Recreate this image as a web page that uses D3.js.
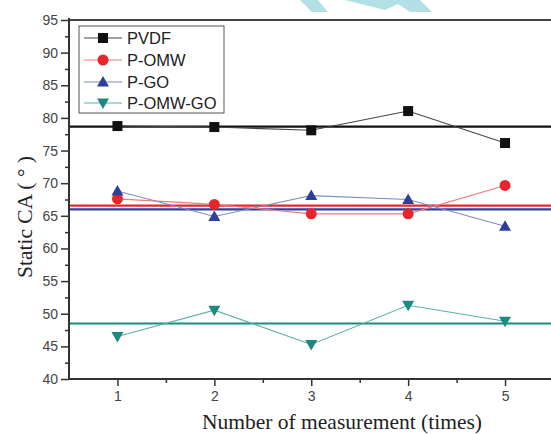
<!DOCTYPE html>
<html><head><meta charset="utf-8">
<script src="https://cdn.jsdelivr.net/npm/d3@7"></script>
<style>body{margin:0;background:#fff}svg{display:block}</style>
</head><body>
<svg id="c" width="551" height="434"></svg>
<script>
const measurements = [1, 2, 3, 4, 5];
const seriesNames = ["PVDF", "P-OMW", "P-GO", "P-OMW-GO"];
const pvdf = [78.75, 78.6, 78.1, 81.05, 76.15];
const pOmw = [67.6, 66.75, 65.3, 65.3, 69.65];
const pGo = [68.8, 64.9, 68.1, 67.5, 63.4];
const pOmwGo = [46.5, 50.55, 45.3, 51.3, 48.85];
const meanLines = [78.65, 66.55, 66.0, 48.5];
const yTicks = [40, 45, 50, 55, 60, 65, 70, 75, 80, 85, 90, 95];
const xTicks = [1, 2, 3, 4, 5];

const colors = ["#111111", "#e8252b", "#2c3f9a", "#1c8a80"];
const lineColors = ["#444444", "#ef7a7d", "#7f8cc4", "#5fb0a8"];
const shapes = ["square", "circle", "triangle", "triangleDown"];
const seriesData = [pvdf, pOmw, pGo, pOmwGo];

const svg = d3.select("#c");
const L = 69, T = 20, R = 553.5, B = 379;
const x = d3.scaleLinear().domain([0.5, 5.5]).range([L, R]);
const y = d3.scaleLinear().domain([40, 95]).range([B, T]);

// watermark
svg.append("path").attr("d","M300,0 L318,0 L328,12 L312,12 Z").attr("fill","#b2e0e6");
svg.append("path").attr("d","M345,0 L420,0 L432,12 L410,12 L398,4 L385,10 Z").attr("fill","#b2e0e6");

const g = svg.append("g");
meanLines.forEach((m, i) => {
  g.append("line").attr("x1", L).attr("x2", 551).attr("y1", y(m)).attr("y2", y(m))
    .attr("stroke", colors[i]).attr("stroke-width", 2.2);
});

const line = d3.line().x((d, i) => x(measurements[i])).y(d => y(d));
seriesData.forEach((s, i) => {
  g.append("path").datum(s).attr("d", line).attr("fill", "none")
    .attr("stroke", lineColors[i]).attr("stroke-width", 1.1);
});

function marker(sel, shape, cx, cy, color) {
  const s = 5;
  if (shape === "square") sel.append("rect").attr("x", cx - s).attr("y", cy - s).attr("width", 2*s).attr("height", 2*s).attr("fill", color);
  else if (shape === "circle") sel.append("circle").attr("cx", cx).attr("cy", cy).attr("r", 5.5).attr("fill", color);
  else if (shape === "triangle") sel.append("path").attr("d", `M${cx},${cy-6} L${cx+6},${cy+4.5} L${cx-6},${cy+4.5} Z`).attr("fill", color);
  else sel.append("path").attr("d", `M${cx},${cy+6} L${cx+6},${cy-4.5} L${cx-6},${cy-4.5} Z`).attr("fill", color);
}
seriesData.forEach((s, i) => {
  s.forEach((v, j) => marker(g, shapes[i], x(measurements[j]), y(v), colors[i]));
});

const axisColor = "#333";
svg.append("line").attr("x1", L).attr("x2", 551).attr("y1", T).attr("y2", T).attr("stroke", "#444").attr("stroke-width", 2);
const yAxis = svg.append("g").attr("transform", `translate(${L},0)`)
  .call(d3.axisLeft(y).tickValues(yTicks).tickSize(8).tickPadding(3));
const yMinor = svg.append("g").attr("transform", `translate(${L},0)`)
  .call(d3.axisLeft(y).tickValues(d3.range(42.5, 95, 5)).tickSize(4).tickFormat(""));
const xAxis = svg.append("g").attr("transform", `translate(0,${B})`)
  .call(d3.axisBottom(x).tickValues(xTicks).tickSize(7).tickPadding(5).tickFormat(d3.format("d")));
const xMinor = svg.append("g").attr("transform", `translate(0,${B})`)
  .call(d3.axisBottom(x).tickValues([1.5, 2.5, 3.5, 4.5]).tickSize(4).tickFormat(""));
[yAxis, yMinor, xAxis, xMinor].forEach(a => {
  a.select(".domain").attr("stroke", axisColor).attr("stroke-width", 2);
  a.selectAll(".tick line").attr("stroke", axisColor).attr("stroke-width", 1.5);
  a.selectAll("text").attr("font-family", "Liberation Sans, Arial, sans-serif").attr("font-size", 14).attr("fill", "#444");
});
yAxis.select(".domain").attr("d", `M0,${B}V${T - 2}`);
xAxis.select(".domain").attr("d", `M${L},0H551`);
xMinor.select(".domain").remove();
yMinor.select(".domain").remove();

svg.append("text").attr("x", 342).attr("y", 429).attr("text-anchor", "middle")
  .attr("font-family", "Liberation Serif, Times New Roman, serif").attr("font-size", 21.5).attr("fill", "#222")
  .text("Number of measurement (times)");
svg.append("text").attr("transform", "translate(32,217) rotate(-90)").attr("text-anchor", "middle")
  .attr("font-family", "Liberation Serif, Times New Roman, serif").attr("font-size", 21.5).attr("fill", "#222")
  .text("Static CA ( ° )");

const lg = svg.append("g");
lg.append("rect").attr("x", 79).attr("y", 26).attr("width", 145).attr("height", 87)
  .attr("fill", "#fff").attr("stroke", "#555").attr("stroke-width", 1);
const ly = [38, 60, 82, 103];
seriesNames.forEach((n, i) => {
  lg.append("line").attr("x1", 84).attr("x2", 122).attr("y1", ly[i]).attr("y2", ly[i]).attr("stroke", lineColors[i]).attr("stroke-width", 1.1);
  marker(lg, shapes[i], 103, ly[i], colors[i]);
  lg.append("text").attr("x", 127).attr("y", ly[i] + 6).attr("font-family", "Liberation Sans, Arial, sans-serif")
    .attr("font-size", 16.5).attr("fill", "#222").text(n);
});
</script>
</body></html>
